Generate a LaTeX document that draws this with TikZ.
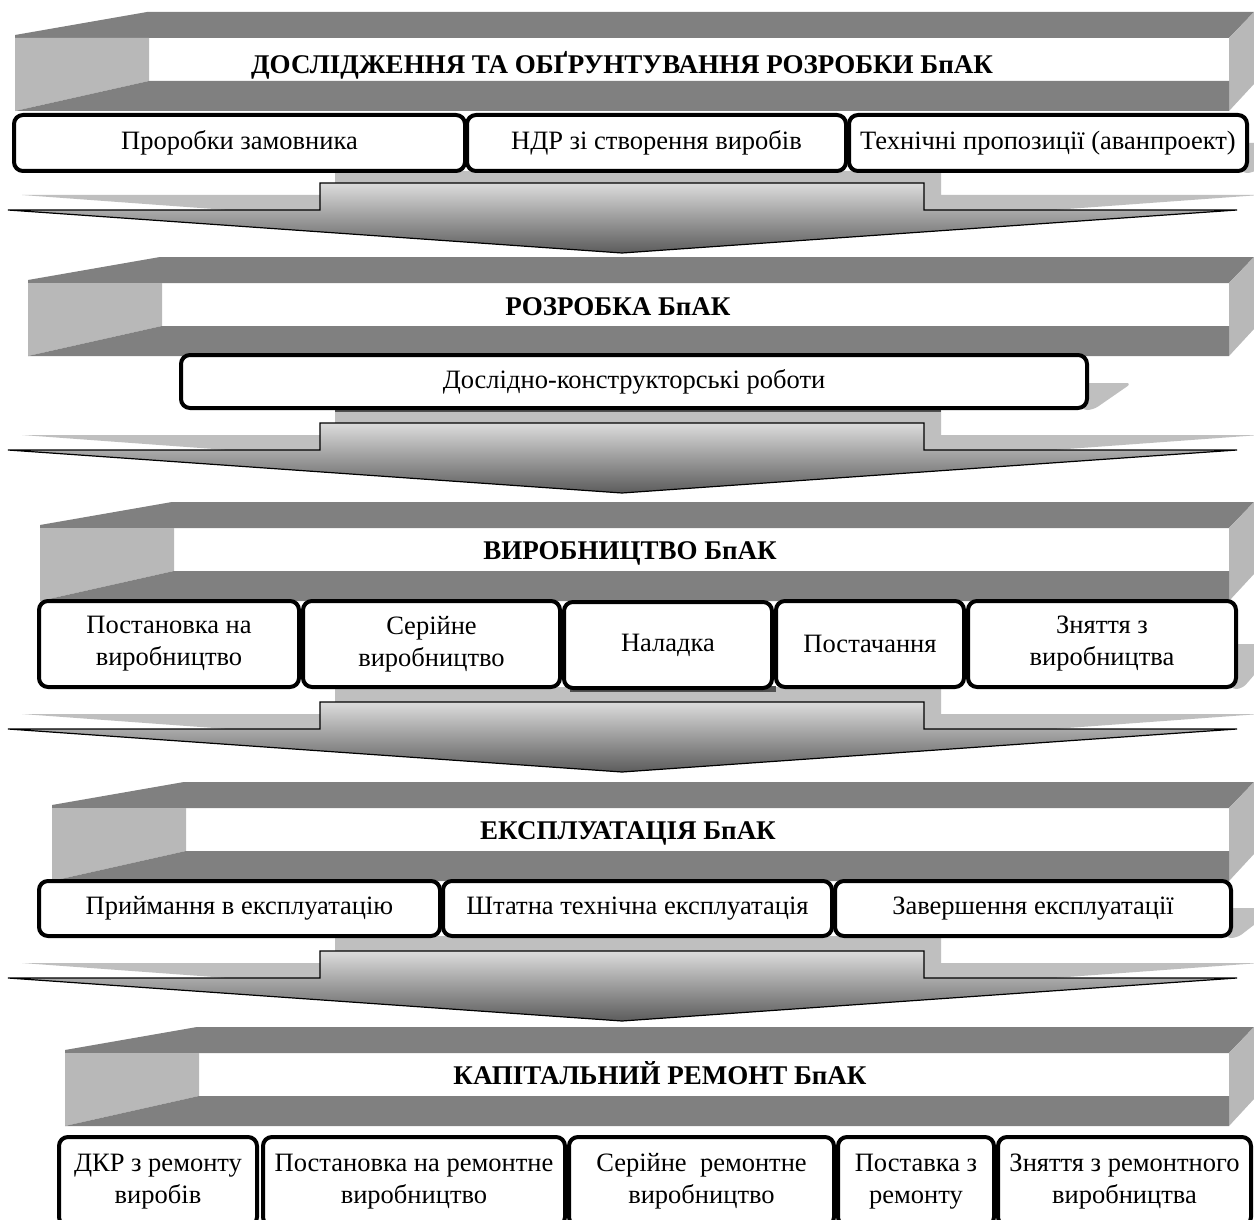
\documentclass[tikz,border=0pt]{standalone}
\usepackage{fontspec}
\setmainfont{Liberation Serif}
\definecolor{bandgray}{HTML}{808080}
\definecolor{facegray}{HTML}{B8B8B8}
\definecolor{shadegray}{HTML}{BFBFBF}
\definecolor{darkshade}{HTML}{505050}
\definecolor{arrtop}{HTML}{DCDCDC}
\definecolor{arrbot}{HTML}{5C5C5C}
\tikzset{
  bx/.style={draw=black, line width=4pt, rounded corners=9pt, fill=white, inner sep=0pt, outer sep=0pt, align=center, font=\fontsize{26.5}{32}\selectfont},
  ttl/.style={font=\fontsize{27}{32}\selectfont\bfseries, inner sep=0pt, anchor=base},
  arr/.style={draw=black, line width=1.2pt, top color=arrtop, bottom color=arrbot, line join=miter},
}
\newcommand\mybanner[2]{%
  \fill[bandgray] (#1,#2+23) -- (#1+132,#2) -- (1254,#2) -- (1229,#2+26) -- (#1,#2+26) -- cycle;
  \fill[facegray] (1229,#2+26) -- (1254,#2) -- (1254,#2+72) -- (1229,#2+99) -- cycle;
  \fill[facegray] (#1,#2+26) -- (#1+134,#2+26) -- (#1+134,#2+69) -- (#1,#2+99) -- cycle;
  \fill[bandgray] (#1,#2+99) -- (#1+134,#2+69) -- (1229,#2+69) -- (1229,#2+99) -- cycle;
}
\newcommand\myarrow[2]{%
  \fill[shadegray] (22,#1-15) -- (335,#1-15) -- (335,#2) -- (941,#2) -- (941,#1-15) -- (1260,#1-15) -- (640,#1+30) -- cycle;
  \shadedraw[arr] (8,#1) -- (320,#1) -- (320,#1-27) -- (924,#1-27) -- (924,#1) -- (1237,#1) -- (622,#1+43) -- cycle;
}
\newcommand\bxshadow[3]{%
  \fill[shadegray, rounded corners=6pt] (#1-6,#2) -- (#1+45,#2) -- (#1+6,#3+2) -- (#1-6,#3+2) -- cycle;
}
\newcommand\bxn[6]{%
  \node[bx, minimum width={(#3-#2)*1pt}, minimum height={(#5-#4)*1pt}] (#1) at ({(#2+#3)/2},{(#4+#5)/2}) {#6};
}
\begin{document}
\begin{tikzpicture}[x=1pt,y=-1pt]
\useasboundingbox (0,0) rectangle (1254,1220);
\clip (0,0) rectangle (1254,1220);
\fill[white] (0,0) rectangle (1254,1220);

% ---------- Section 1 ----------
\mybanner{15}{12}
\node[ttl] (t1) at (622,74) {ДОСЛІДЖЕННЯ ТА ОБҐРУНТУВАННЯ РОЗРОБКИ БпАК};
\myarrow{210}{171}
\bxshadow{1247}{143}{171}
\bxn{a1}{14}{465}{115}{171}{Проробки замовника}
\bxn{a2}{467}{846}{115}{171}{НДР зі створення виробів}
\bxn{a3}{849}{1247}{115}{171}{Технічні пропозиції (аванпроект)}

% ---------- Section 2 ----------
\mybanner{28}{257}
\node[ttl] (t2) at (618,315) {РОЗРОБКА БпАК};
\myarrow{450}{408}
\fill[darkshade] (335,404) rectangle (941,412);
\bxshadow{1087}{383}{408}
\bxn{b1}{181}{1087}{355}{408}{Дослідно-конструкторські роботи}

% ---------- Section 3 ----------
\mybanner{40}{502}
\node[ttl] (t3) at (630,559) {ВИРОБНИЦТВО БпАК};
\myarrow{729}{687}
\fill[darkshade] (570,686) rectangle (776,692);
\bxshadow{1236}{644}{687}
\bxn{c1}{39}{299}{601}{687}{Постановка на\\виробництво}
\bxn{c2}{303}{560}{601}{687}{Серійне\\виробництво}
\bxn{c3}{564}{772}{602}{688}{Наладка}
\bxn{c4}{776}{964}{601}{687}{Постачання}
\bxn{c5}{968}{1236}{601}{687}{Зняття з\\виробництва}

% ---------- Section 4 ----------
\mybanner{52}{782}
\node[ttl] (t4) at (628,839) {ЕКСПЛУАТАЦІЯ БпАК};
\myarrow{978}{936}
\bxshadow{1231}{908}{936}
\bxn{d1}{39}{440}{881}{936}{Приймання в експлуатацію}
\bxn{d2}{443}{832}{881}{936}{Штатна технічна експлуатація}
\bxn{d3}{835}{1231}{881}{936}{Завершення експлуатації}

% ---------- Section 5 ----------
\mybanner{65}{1027}
\node[ttl] (t5) at (660,1084) {КАПІТАЛЬНИЙ РЕМОНТ БпАК};
\bxn{e1}{59}{257}{1137}{1226}{ДКР з ремонту\\виробів}
\bxn{e2}{263}{565}{1137}{1226}{Постановка на ремонтне\\виробництво}
\bxn{e3}{569}{834}{1137}{1226}{Серійне\ \ ремонтне\\виробництво}
\bxn{e4}{838}{994}{1137}{1226}{Поставка з\\ремонту}
\bxn{e5}{998}{1251}{1137}{1226}{Зняття з ремонтного\\виробництва}
\end{tikzpicture}
\end{document}
